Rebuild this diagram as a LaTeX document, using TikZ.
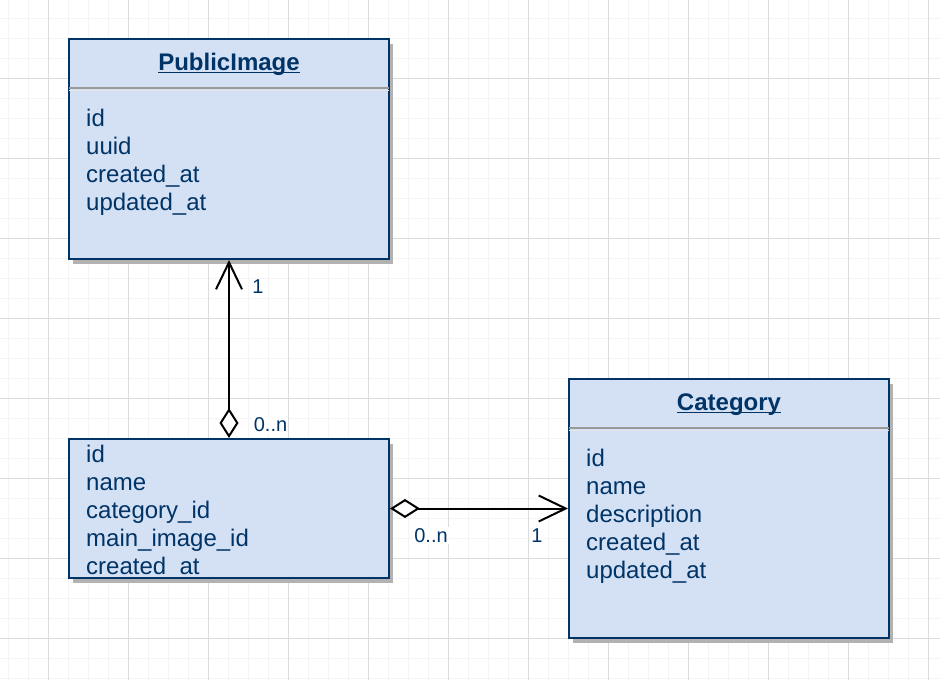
\documentclass[tikz,border=0pt]{standalone}
\usepackage{fontspec}
\setmainfont{Liberation Sans}
\usepackage{xcolor}
\usepackage{tikz}
\usetikzlibrary{calc}
\usetikzlibrary{arrows.meta,shadows}

\definecolor{classfill}{HTML}{D4E1F5}
\definecolor{classline}{HTML}{003366}
\definecolor{griddark}{HTML}{DCDCDC}
\definecolor{gridlight}{HTML}{F4F4F4}

\begin{document}
\begin{tikzpicture}[x=1pt, y=-1pt,
		minorline/.style={gridlight, line width=1.2pt},
		majorline/.style={griddark, line width=0.8pt},
		classbox/.style={draw=classline, fill=classfill, line width=2pt, minimum width=320pt, inner sep=0pt,
			drop shadow={shadow xshift=4pt, shadow yshift=-5pt, fill=black!30, opacity=1}},
		classname/.style={anchor=base, inner sep=0pt, text=classline, font=\fontsize{24}{28}\selectfont\bfseries},
		attrs/.style={anchor=north west, align=left, inner sep=0pt, text=classline, font=\fontsize{24}{28}\selectfont},
		mult/.style={fill=white, inner sep=1pt, text=classline, font=\fontsize{20}{24}\selectfont},
		assoc/.style={line width=2pt, {Diamond[length=30pt, width=19pt, fill=white]}-{Straight Barb[length=27pt, width=26pt]}}]
		\useasboundingbox (0,0) rectangle (940,680);
		\fill[white] (0,0) rectangle (940,680);
		
		% grid
		\foreach \k in {0,...,46}
			\draw[minorline] (8.3+20*\k,0) -- (8.3+20*\k,680);
		\foreach \k in {0,...,33}
			\draw[minorline] (0,18.3+20*\k) -- (940,18.3+20*\k);
		\foreach \k in {0,...,11}
			\draw[majorline] (48.3+80*\k,0) -- (48.3+80*\k,680);
		\foreach \k in {0,...,7}
			\draw[majorline] (0,78.3+80*\k) -- (940,78.3+80*\k);
		
		% classes
		\node[classbox, minimum height=220pt] (publicimage) at (229,149) {};
		\node[classbox, minimum height=259pt] (category) at (729,508.5) {};
		\node[classbox, minimum height=139pt] (item) at (229,508.5) {};
		
		\foreach \c in {publicimage,category} {
			\draw[black!40, line width=1.5pt] ($(\c.north west)+(1,50)$) -- ($(\c.north east)+(-1,50)$);
			\draw[black!10, line width=1pt] ($(\c.north west)+(1,52)$) -- ($(\c.north east)+(-1,52)$);
		}
		
		\node[classname] (publicimage-title) at ($(publicimage.north)+(0,32)$) {PublicImage};
		\node[classname] (category-title) at ($(category.north)+(0,32)$) {Category};
		\foreach \t in {publicimage-title,category-title}
			\draw[classline, line width=1.5pt] ($(\t.base west)+(0,2.5)$) -- ($(\t.base east)+(0,2.5)$);
		
		\node[attrs] (publicimage-attrs) at ($(publicimage.north west)+(18,71)$) {id\\uuid\\created\_at\\updated\_at};
		\node[attrs] (category-attrs) at ($(category.north west)+(18,71)$) {id\\name\\description\\created\_at\\updated\_at};
		\node[attrs] (item-attrs) at ($(item.north west)+(18,7)$) {id\\name\\category\_id\\main\_image\_id\\created\_at};
		
		% associations
		\draw[assoc] (item.north) -- (publicimage.south);
		\draw[assoc] (item.east) -- (category.west);
		
		\begin{scope}
			\node[mult] (publicimage-one) at ($(publicimage.south)+(29,27)$) {1};
			\node[mult] (publicimage-many) at ($(item.north)+(41.5,-13)$) {0..n};
			\node[mult] (category-many) at ($(item.east)+(41,27)$) {0..n};
			\node[mult] (category-one) at ($(category.west)+(-31,27)$) {1};
		\end{scope}
	\end{tikzpicture}
\end{document}
